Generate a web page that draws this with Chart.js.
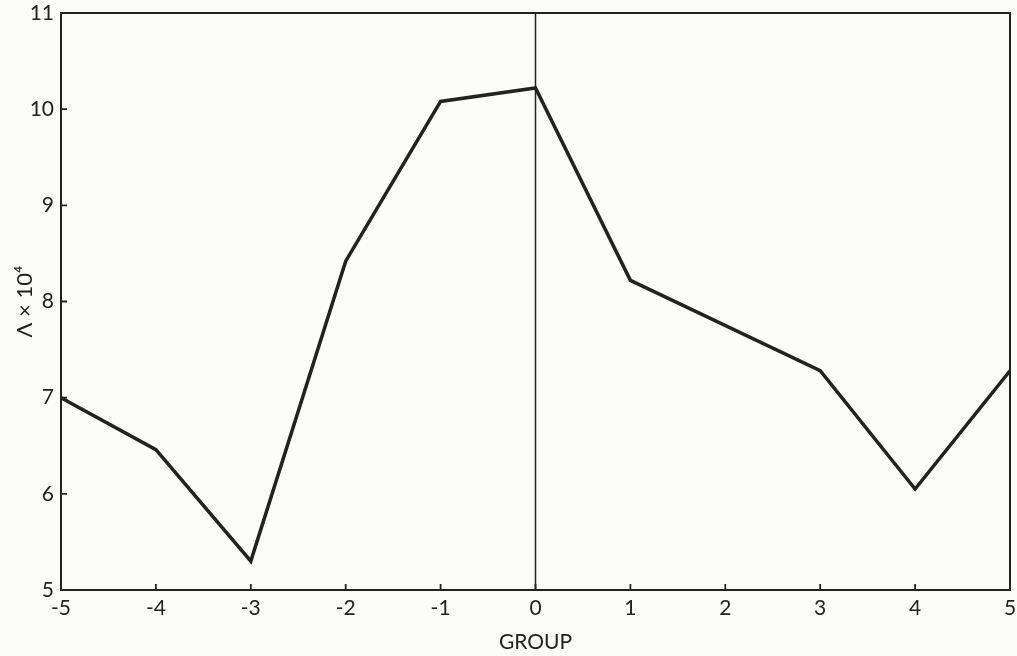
<!DOCTYPE html>
<html>
<head>
<meta charset="utf-8">
<script src="https://cdn.jsdelivr.net/npm/chart.js@4"></script>
<style>
  html, body { margin: 0; padding: 0; background: #fcfcf8; }
  #wrap { width: 1017px; height: 656px; position: relative; }
</style>
</head>
<body>
<div id="wrap"><canvas id="c" width="1017" height="656"></canvas></div>
<script>
const groups = [-5, -4, -3, -2, -1, 0, 1, 3, 4, 5];
const lambdaValues = [7.0, 6.46, 5.3, 8.42, 10.08, 10.22, 8.22, 7.28, 6.05, 7.28];
const zeroLineX = [0, 0];
const zeroLineY = [5, 11];
const xTicks = [-5, -4, -3, -2, -1, 0, 1, 2, 3, 4, 5];
const yTicks = [5, 6, 7, 8, 9, 10, 11];
const xTitle = 'GROUP';
const yTitle = 'Λ × 10⁴';

const ink = '#222222';
const fontFamily = 'Lato, "Open Sans", sans-serif';

const framePlugin = {
  id: 'frame',
  afterDatasetsDraw(chart) {
    const {ctx, chartArea: a, scales: {x, y}} = chart;
    ctx.save();
    ctx.strokeStyle = ink;
    ctx.lineWidth = 2;
    ctx.strokeRect(a.left, a.top, a.right - a.left, a.bottom - a.top);
    ctx.lineWidth = 1.8;
    ctx.beginPath();
    x.ticks.forEach(t => {
      const px = x.getPixelForValue(t.value);
      ctx.moveTo(px, a.bottom);
      ctx.lineTo(px, a.bottom - 6);
    });
    y.ticks.forEach(t => {
      const py = y.getPixelForValue(t.value);
      ctx.moveTo(a.left, py);
      ctx.lineTo(a.left + 6, py);
    });
    ctx.stroke();
    ctx.restore();
  }
};

new Chart(document.getElementById('c'), {
  type: 'line',
  data: {
    datasets: [
      {
        data: groups.map((g, i) => ({x: g, y: lambdaValues[i]})),
        borderColor: ink,
        borderWidth: 3.5,
        pointRadius: 0,
        tension: 0,
        fill: false
      },
      {
        data: zeroLineX.map((g, i) => ({x: g, y: zeroLineY[i]})),
        borderColor: ink,
        borderWidth: 1.5,
        pointRadius: 0,
        fill: false
      }
    ]
  },
  options: {
    responsive: false,
    animation: false,
    layout: { padding: { top: 13, right: 7, left: 0, bottom: 0 } },
    plugins: { legend: { display: false }, tooltip: { enabled: false } },
    scales: {
      x: {
        type: 'linear',
        min: -5, max: 5,
        afterBuildTicks: s => { s.ticks = xTicks.map(v => ({value: v})); },
        afterFit: s => { s.height = 66; s.paddingLeft = 0; s.paddingRight = 0; },
        grid: { display: false, drawTicks: false, tickLength: 0 },
        border: { display: false },
        ticks: {
          color: ink, padding: 6, maxRotation: 0, autoSkip: false,
          font: { family: fontFamily, size: 21 },
          callback: v => String(v)
        },
        title: {
          display: true, text: xTitle, color: ink,
          font: { family: fontFamily, size: 21 },
          padding: { top: 0, bottom: 1 }
        }
      },
      y: {
        type: 'linear',
        min: 5, max: 11,
        afterBuildTicks: s => { s.ticks = yTicks.map(v => ({value: v})); },
        afterFit: s => { s.width = 61; s.paddingTop = 0; s.paddingBottom = 0; },
        grid: { display: false, drawTicks: false, tickLength: 0 },
        border: { display: false },
        ticks: {
          color: ink, padding: 7, autoSkip: false,
          font: { family: fontFamily, size: 21 },
          callback: v => String(v)
        },
        title: {
          display: true, text: yTitle, color: ink,
          font: { family: fontFamily, size: 22 },
          padding: { top: 12, bottom: 0 }
        }
      }
    }
  },
  plugins: [framePlugin]
});
</script>
</body>
</html>
